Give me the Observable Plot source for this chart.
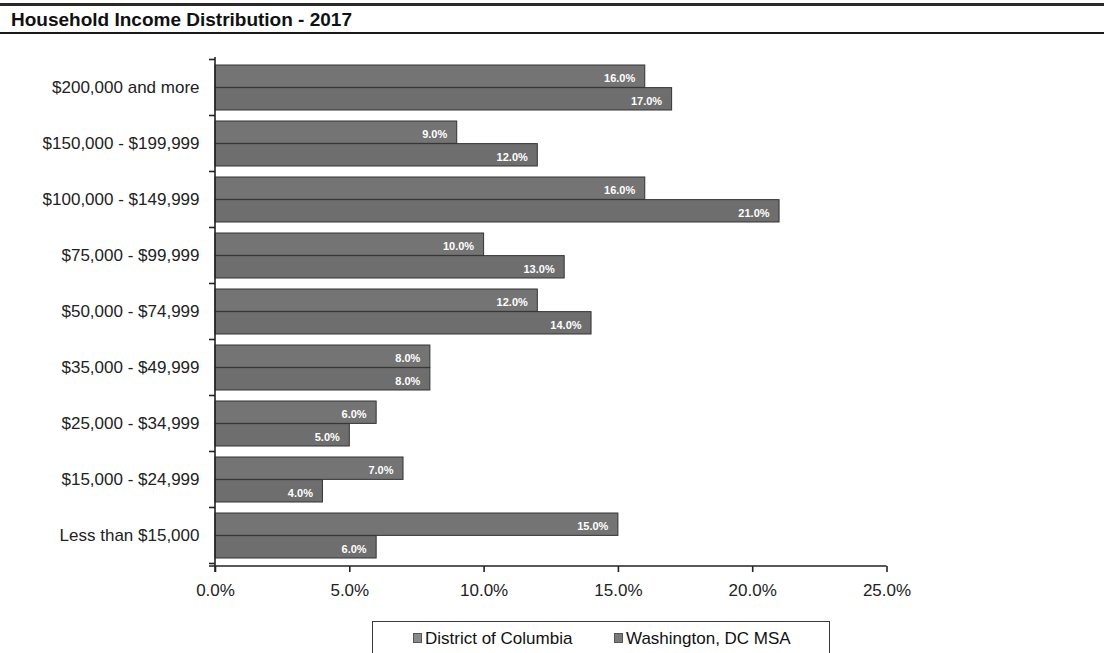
<!DOCTYPE html>
<html><head><meta charset="utf-8">
<script src="https://cdn.jsdelivr.net/npm/d3@7"></script>
<script src="https://cdn.jsdelivr.net/npm/@observablehq/plot@0.6"></script>
<style>
body{margin:0;background:#fff;font-family:"Liberation Sans",Arial,sans-serif;width:1104px;height:653px;overflow:hidden;position:relative}
#title{position:absolute;left:0;top:0;width:1104px;height:36px}
#title .l1{position:absolute;left:0;top:3px;width:1104px;height:3px;background:#2a2a2a}
#title .l2{position:absolute;left:0;top:32px;width:1104px;height:2px;background:#1a1a1a}
#title .t{position:absolute;left:11px;top:9px;font-size:19px;font-weight:bold;color:#111;line-height:22px;white-space:nowrap}
#chart{position:absolute;left:0;top:36px}
#legend{position:absolute;left:372px;top:621px;width:458px;height:44px;border:1px solid #3a3a3a;box-sizing:border-box}
#legend .it{position:absolute;top:7px;font-size:17px;line-height:20px;color:#111;white-space:nowrap}
#legend .sw{display:inline-block;width:7px;height:8px;margin-right:3px;vertical-align:1px;border:1px solid #555}
</style>
</head><body>
<div id="title"><div class="l1"></div><div class="t"></div><div class="l2"></div></div>
<div id="chart"></div>
<div id="legend"></div>
<script>
const titleText = "Household Income Distribution - 2017";
const categories = ["$200,000 and more","$150,000 - $199,999","$100,000 - $149,999","$75,000 - $99,999","$50,000 - $74,999","$35,000 - $49,999","$25,000 - $34,999","$15,000 - $24,999","Less than $15,000"];
const seriesNames = ["District of Columbia","Washington, DC MSA"];
const dcValues  = [16, 9, 16, 10, 12, 8, 6, 7, 15];
const msaValues = [17, 12, 21, 13, 14, 8, 5, 4, 6];
const xTicks = [0, 5, 10, 15, 20, 25];
const seriesColors = ["#747474", "#6e6e6e"];
const swatchColors = ["#8a8a8a", "#7a7a7a"];

document.querySelector("#title .t").textContent = titleText;

const W = 1104, H = 584, mT = 21, mB = 54, mL = 215, mR = 217.5;
const padIn = 0.2, padOut = 0.1;
const innerH = H - mT - mB;
const step = innerH / (categories.length - padIn + 2 * padOut);
const bw = step * (1 - padIn);

const dc = categories.map((c, i) => ({cat: c, v: dcValues[i], s: seriesNames[0]}));
const msa = categories.map((c, i) => ({cat: c, v: msaValues[i], s: seriesNames[1]}));
const fmt = d => d3.format(".1f")(d) + "%";
const font = '"Liberation Sans",Arial,sans-serif';

function axesLines(index, scales, values, dims) {
  const y = scales.y, x = scales.x;
  const g = d3.create("svg:g").attr("stroke", "#222").attr("stroke-width", 1.6).attr("fill", "none");
  const top = dims.marginTop, bottom = dims.height - dims.marginBottom;
  const x0 = x(0), x1 = x(25);
  // y axis line
  g.append("line").attr("x1", x0).attr("x2", x0).attr("y1", top).attr("y2", bottom + 6);
  // x axis line
  g.append("line").attr("x1", x0 - 6).attr("x2", x1).attr("y1", bottom).attr("y2", bottom);
  // category boundary ticks
  const st = (y.step ? y.step() : step), b = (y.bandwidth ? y.bandwidth() : bw);
  const bounds = categories.map(c => y(c) - (st - b) / 2);
  bounds.push(y(categories[categories.length - 1]) + b + (st - b) / 2);
  for (const yy of bounds) g.append("line").attr("x1", x0 - 6).attr("x2", x0).attr("y1", yy).attr("y2", yy);
  return g.node();
}

const chart = Plot.plot({
  width: W, height: H,
  marginTop: mT, marginBottom: mB, marginLeft: mL, marginRight: mR,
  style: {fontFamily: font, background: "transparent", color: "#222"},
  x: {domain: [0, 25], ticks: xTicks},
  y: {domain: categories, paddingInner: padIn, paddingOuter: padOut},
  marks: [
    Plot.barX(dc, {x: "v", y: "cat", fill: seriesColors[0], stroke: "#333", strokeWidth: 1, insetBottom: bw / 2}),
    Plot.barX(msa, {x: "v", y: "cat", fill: seriesColors[1], stroke: "#333", strokeWidth: 1, insetTop: bw / 2}),
    Plot.text(dc, {x: "v", y: "cat", text: d => fmt(d.v), textAnchor: "end", dx: -10, dy: -bw / 4 + 2, fill: "white", fontWeight: "bold", fontSize: 11}),
    Plot.text(msa, {x: "v", y: "cat", text: d => fmt(d.v), textAnchor: "end", dx: -10, dy: bw / 4 + 2, fill: "white", fontWeight: "bold", fontSize: 11}),
    Plot.axisX({ticks: xTicks, tickFormat: fmt, tickSize: 6, tickPadding: 11, fontSize: 17, label: null, stroke: "#222", strokeWidth: 1.6, fill: "#222"}),
    Plot.axisY({tickSize: 0, tickPadding: 16, fontSize: 17, label: null, fill: "#222"}),
    axesLines
  ]
});
document.getElementById("chart").appendChild(chart);

const lg = document.getElementById("legend");
const lefts = [40, 241];
seriesNames.forEach((n, i) => {
  const it = document.createElement("div");
  it.className = "it";
  it.style.left = lefts[i] + "px";
  const sw = document.createElement("span");
  sw.className = "sw";
  sw.style.background = swatchColors[i];
  it.appendChild(sw);
  it.appendChild(document.createTextNode(n));
  lg.appendChild(it);
});
</script>
</body></html>
